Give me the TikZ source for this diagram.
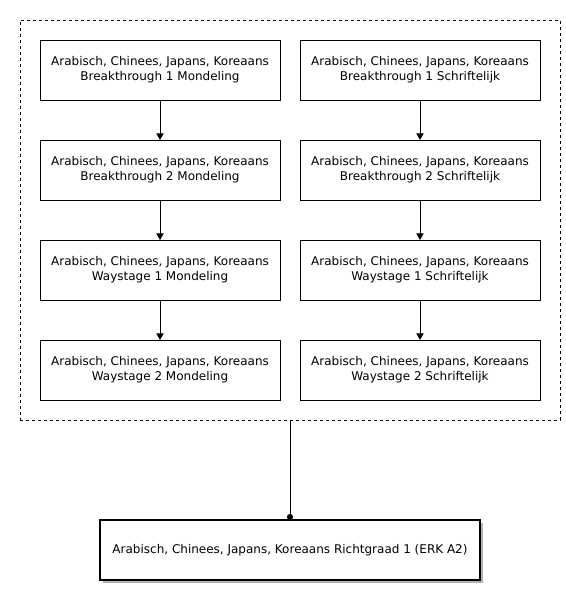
\documentclass[tikz,border=0pt]{standalone}
\usepackage{fontspec}
\setmainfont{DejaVu Sans}
\usetikzlibrary{positioning,arrows.meta,fit,shadows}

\begin{document}
\begin{tikzpicture}[
    node distance=30pt and 15pt,
    box/.style={rectangle, draw, line width=0.75pt, outer sep=0pt, minimum width=180pt, minimum height=45pt, align=center, inner sep=0pt, font=\fontsize{9}{11.25}\selectfont},
    arrow/.style={-{Triangle[width=5.5pt,length=5pt]}, line width=0.75pt}
]
\useasboundingbox (0,0) rectangle (423.75pt,-441.75pt);
\node[box] (bt1mond) at (120pt,-52.5pt) {Arabisch, Chinees, Japans, Koreaans\\Breakthrough 1 Mondeling};
\node[box, below=of bt1mond] (bt2mond) {Arabisch, Chinees, Japans, Koreaans\\Breakthrough 2 Mondeling};
\node[box, below=of bt2mond] (ws1mond) {Arabisch, Chinees, Japans, Koreaans\\Waystage 1 Mondeling};
\node[box, below=of ws1mond] (ws2mond) {Arabisch, Chinees, Japans, Koreaans\\Waystage 2 Mondeling};
\node[box, right=of bt1mond] (bt1schr) {Arabisch, Chinees, Japans, Koreaans\\Breakthrough 1 Schriftelijk};
\node[box, below=of bt1schr] (bt2schr) {Arabisch, Chinees, Japans, Koreaans\\Breakthrough 2 Schriftelijk};
\node[box, below=of bt2schr] (ws1schr) {Arabisch, Chinees, Japans, Koreaans\\Waystage 1 Schriftelijk};
\node[box, below=of ws1schr] (ws2schr) {Arabisch, Chinees, Japans, Koreaans\\Waystage 2 Schriftelijk};

\node[draw, line width=0.75pt, outer sep=0pt, dash pattern=on 2.25pt off 2.25pt, inner sep=15pt, fit=(bt1mond) (ws2schr)] (group) {};
\node[box, minimum width=285pt, line width=1.5pt, below=75pt of group, drop shadow={shadow xshift=2.25pt, shadow yshift=-2.25pt, fill=gray!60, opacity=1}, fill=white] (rg1) {Arabisch, Chinees, Japans, Koreaans Richtgraad 1 (ERK A2)};

\draw[arrow] (bt1mond) -- (bt2mond);
\draw[arrow] (bt2mond) -- (ws1mond);
\draw[arrow] (ws1mond) -- (ws2mond);
\draw[arrow] (bt1schr) -- (bt2schr);
\draw[arrow] (bt2schr) -- (ws1schr);
\draw[arrow] (ws1schr) -- (ws2schr);
\draw[-{Circle[length=4.5pt]}, line width=0.75pt] (group) -- (rg1);
\end{tikzpicture}
\end{document}
